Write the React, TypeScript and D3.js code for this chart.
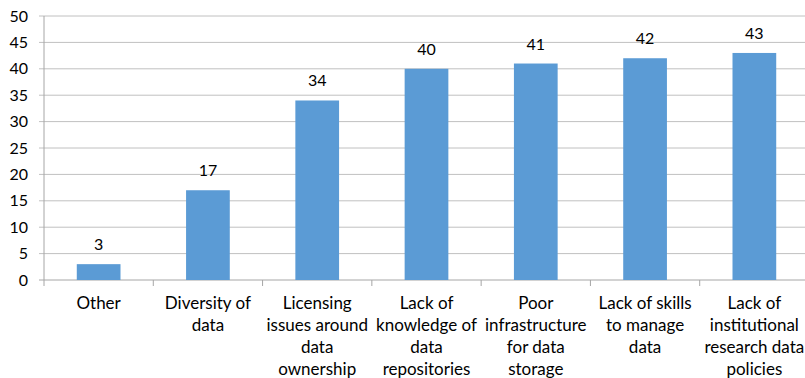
import React from "react";
import * as d3 from "d3";

const categories = [
  "Other",
  "Diversity of data",
  "Licensing issues around data ownership",
  "Lack of knowledge of data repositories",
  "Poor infrastructure for data storage",
  "Lack of skills to manage data",
  "Lack of institutional research data policies",
];
const labelLines = [
  ["Other"],
  ["Diversity of", "data"],
  ["Licensing", "issues around", "data", "ownership"],
  ["Lack of", "knowledge of", "data", "repositories"],
  ["Poor", "infrastructure", "for data", "storage"],
  ["Lack of skills", "to manage", "data"],
  ["Lack of", "institutional", "research data", "policies"],
];
const values = [3, 17, 34, 40, 41, 42, 43];
const yTicks = [0, 5, 10, 15, 20, 25, 30, 35, 40, 45, 50];

const W = 805;
const H = 378;
const left = 44;
const right = 809;
const top = 16;
const bottom = 280;
const font = "Lato, 'Open Sans', sans-serif";

export default function App() {
  const x = d3.scaleBand<string>().domain(categories).range([left, right]).paddingInner(0.6).paddingOuter(0.3);
  const y = d3.scaleLinear().domain([0, 50]).range([bottom, top]);
  const step = (right - left) / categories.length;

  return (
    <svg width={W} height={H} style={{ position: "absolute", left: 0, top: 0 }}>
      <rect width={W} height={H} fill="#fff" />
      {yTicks.map((t) => (
        <g key={t}>
          <line x1={39} x2={right} y1={y(t)} y2={y(t)} stroke={t === 0 ? "#a6a6a6" : "#c0c0c0"} strokeWidth={1} />
          <text x={28} y={y(t)} dy="0.35em" textAnchor="end" fontFamily={font} fontSize={16} fill="#000">
            {t}
          </text>
        </g>
      ))}
      <line x1={left} x2={left} y1={top} y2={bottom} stroke="#a6a6a6" />
      {d3.range(categories.length + 1).map((i) => (
        <line key={i} x1={left + i * step} x2={left + i * step} y1={bottom} y2={bottom + 6} stroke="#a6a6a6" />
      ))}
      {categories.map((c, i) => (
        <g key={c}>
          <rect x={x(c)} y={y(values[i])} width={x.bandwidth()} height={bottom - y(values[i])} fill="#5b9bd5" />
          <text
            x={(x(c) as number) + x.bandwidth() / 2}
            y={y(values[i]) - 14}
            textAnchor="middle"
            fontFamily={font}
            fontSize={16}
            fill="#000"
          >
            {values[i]}
          </text>
          <text x={(x(c) as number) + x.bandwidth() / 2} y={309} textAnchor="middle" fontFamily={font} fontSize={17} fill="#000">
            {labelLines[i].map((l, j) => (
              <tspan key={j} x={(x(c) as number) + x.bandwidth() / 2} dy={j === 0 ? 0 : 22}>
                {l}
              </tspan>
            ))}
          </text>
        </g>
      ))}
    </svg>
  );
}
